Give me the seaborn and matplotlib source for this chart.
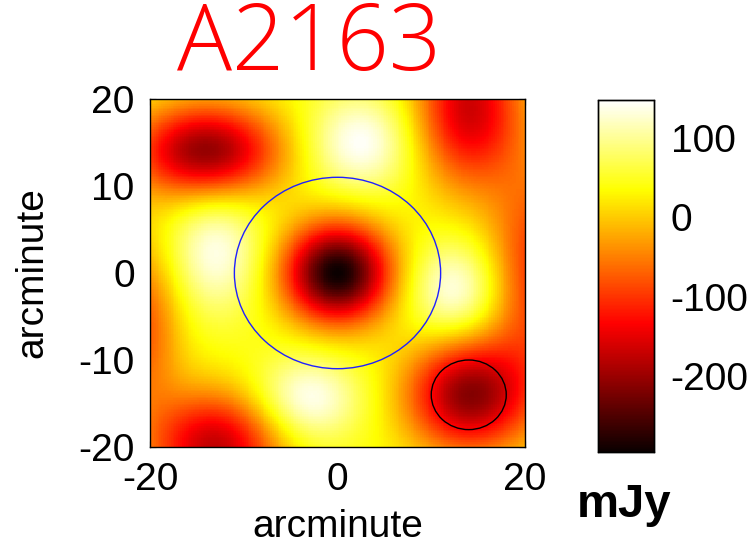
import numpy as np
import seaborn as sns
import matplotlib.pyplot as plt
from matplotlib.patches import Ellipse

# SZ decrement map of A2163, modelled as a few elliptical gaussian blobs on a flat level

sns.set_style('white')
plt.rcParams['font.family'] = ['Liberation Sans', 'DejaVu Sans']
plt.rcParams['text.color'] = 'black'
plt.rcParams['axes.labelcolor'] = 'black'
plt.rcParams['xtick.color'] = 'black'
plt.rcParams['ytick.color'] = 'black'

level = 40.0
blob_x = [0.0, -14.0, 14.0, 21.0, 14.0, -13.0, -21.0, 2.4, -13.0, 12.5, -3.3]
blob_y = [0.0, 14.0, 19.0, 0.0, -14.0, -20.0, -6.0, 15.0, 2.5, -2.0, -14.5]
blob_amp = [-336, -250, -205, -140, -250, -215, -120, 110, 100, 105, 110]
blob_sx = [4.0, 5.5, 4.0, 3.5, 4.6, 5.0, 3.0, 4.0, 3.5, 3.5, 4.0]
blob_sy = [4.0, 3.8, 6.5, 9.0, 4.6, 4.5, 7.0, 4.0, 5.0, 4.0, 3.5]

vmin, vmax = -296, 148
cbar_ticks = [-200, -100, 0, 100]
xticks = [-20, 0, 20]
yticks = [-20, -10, 0, 10, 20]
# circles: (x, y, radius, colour)
circ_x = [0, 14]
circ_y = [0, -14]
circ_r = [11, 4]
circ_c = ['#2020ff', 'black']

N = 200
g = -20 + (np.arange(N) + 0.5) * 40 / N
X, Y = np.meshgrid(g, g)
Z = np.full_like(X, level)
for bx, by, a, sx, sy in zip(blob_x, blob_y, blob_amp, blob_sx, blob_sy):
    Z += a * np.exp(-((X - bx) ** 2 / (2 * sx ** 2) + (Y - by) ** 2 / (2 * sy ** 2)))

def to_cell(v):
    return (np.asarray(v, dtype=float) + 20) * N / 40

fig = plt.figure(figsize=(7.56, 5.49), dpi=100)
ax = fig.add_axes([150 / 756, 1 - 447 / 549, 375 / 756, 348 / 549])
cax = fig.add_axes([598 / 756, 1 - 452 / 549, 56 / 756, 352 / 549])

sns.heatmap(Z, cmap='hot', vmin=vmin, vmax=vmax, ax=ax, cbar_ax=cax,
            xticklabels=False, yticklabels=False, rasterized=True)
ax.invert_yaxis()

for cx, cy, r, c in zip(circ_x, circ_y, circ_r, circ_c):
    ax.add_patch(Ellipse((to_cell(cx), to_cell(cy)), 2 * r * N / 40, 2 * r * N / 40,
                         fill=False, edgecolor=c, lw=1.0))

ax.set_xticks(to_cell(xticks))
ax.set_xticklabels([str(t) for t in xticks], rotation=0)
ax.set_yticks(to_cell(yticks))
ax.set_yticklabels([str(t) for t in yticks], rotation=0)
ax.tick_params(direction='in', length=4, width=0.8, labelsize=28, pad=11,
               top=True, right=True, bottom=True, left=True)
ax.set_xlabel('arcminute', fontsize=28, labelpad=8)
ax.set_ylabel('arcminute', fontsize=28, labelpad=20)
for s in ax.spines.values():
    s.set_visible(True)
    s.set_linewidth(1.0)
    s.set_color('black')

cax.set_yticks(cbar_ticks)
cax.set_yticklabels([str(t) for t in cbar_ticks])
cax.tick_params(direction='in', length=4, width=0.8, labelsize=28, pad=12,
                left=True, right=True)
for s in cax.spines.values():
    s.set_visible(True)
    s.set_linewidth(1.0)
    s.set_color('black')

fig.text(624 / 756, 1 - 505 / 549, 'mJy', fontsize=34, fontweight='bold',
         ha='center', va='center')
fig.text(309 / 756, 1 - 46 / 549, 'A2163', fontsize=66, color='#ff0000',
         fontweight='light', ha='center', va='center', family=['Open Sans', 'DejaVu Sans'])

fig.savefig('out.png', dpi=100)
